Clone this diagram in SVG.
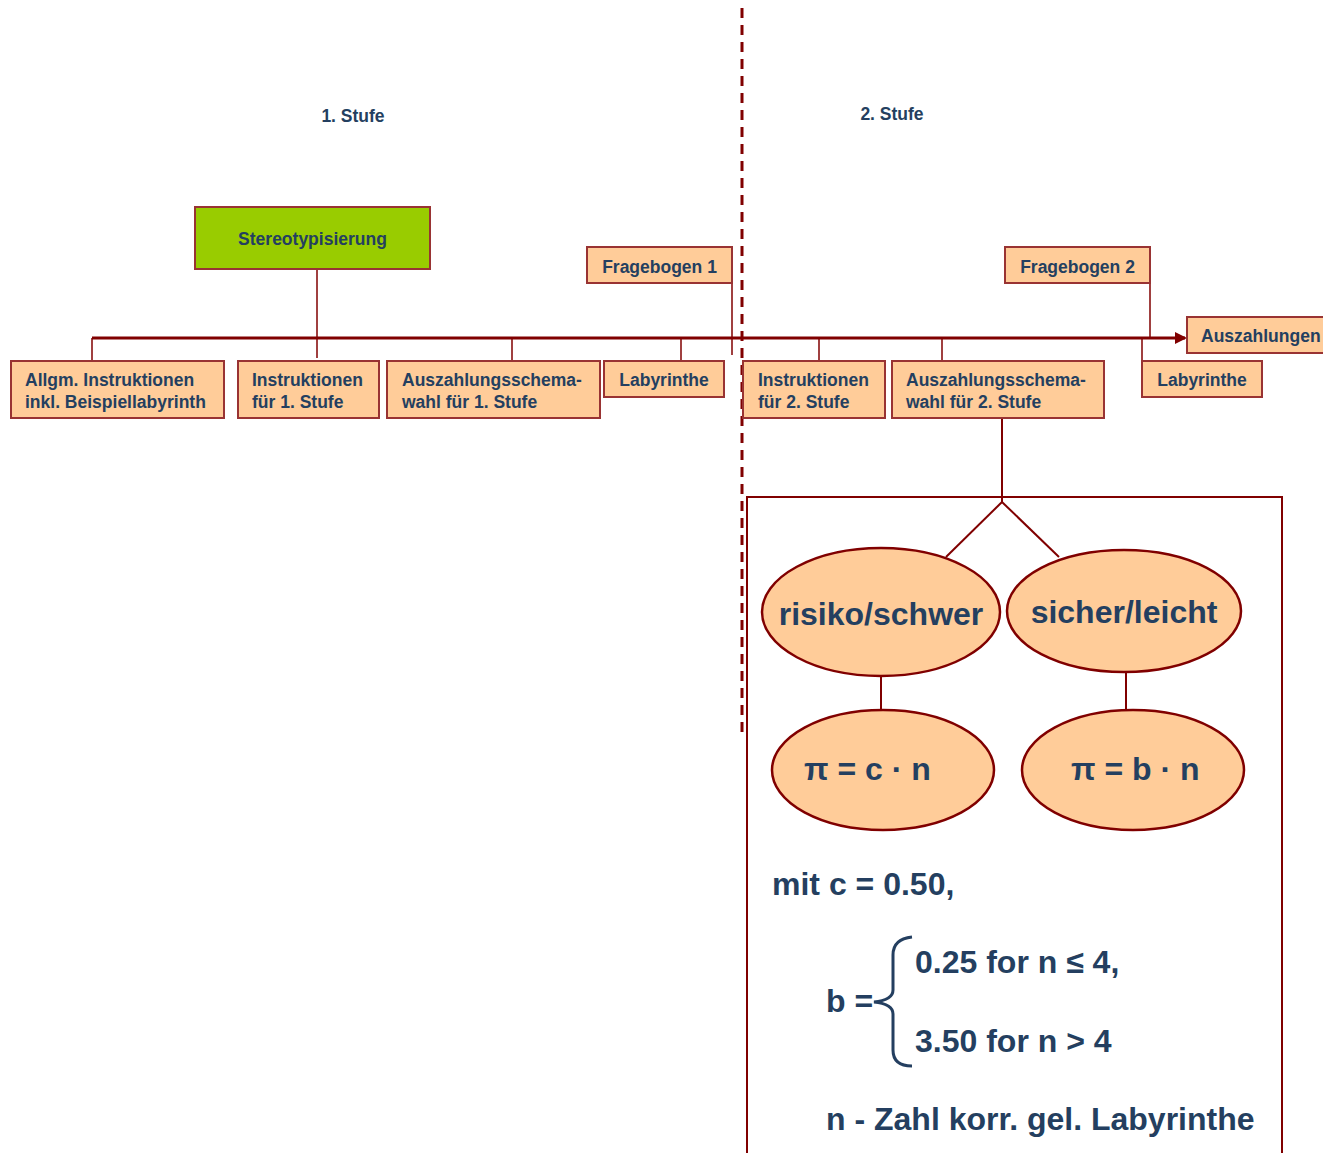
<svg xmlns="http://www.w3.org/2000/svg" width="1323" height="1153" viewBox="0 0 1323 1153">
<defs>
<style>
.box{fill:#FFCC99;stroke:#993333;stroke-width:2}
.green{fill:#99CC00;stroke:#993333;stroke-width:2}
.ell{fill:#FFCC99;stroke:#800000;stroke-width:2.5}
.t{font-family:"Liberation Sans",Arial,sans-serif;font-weight:bold;font-size:17.5px;fill:#243F60}
.big{font-family:"Liberation Sans",Arial,sans-serif;font-weight:bold;font-size:32px;fill:#243F60}
.ln{stroke:#800000;stroke-width:1.5;fill:none}
.main{stroke:#800000;stroke-width:3;fill:none}
</style>
<marker id="arr" markerWidth="12" markerHeight="12" refX="10" refY="6" orient="auto" markerUnits="userSpaceOnUse">
<path d="M0,0 L12,6 L0,12 Z" fill="#800000"/>
</marker>
</defs>
<rect width="1323" height="1153" fill="#FFFFFF"/>

<text class="t" x="353" y="122" text-anchor="middle">1. Stufe</text>
<text class="t" x="892" y="120" text-anchor="middle">2. Stufe</text>

<g id="connectors">
<line class="main" x1="92" y1="338" x2="1185" y2="338" marker-end="url(#arr)"/>
<line class="ln" x1="92" y1="338" x2="92" y2="361"/>
<line class="ln" x1="317" y1="269" x2="317" y2="358"/>
<line class="ln" x1="512" y1="338" x2="512" y2="361"/>
<line class="ln" x1="681" y1="338" x2="681" y2="361"/>
<line class="ln" x1="732" y1="283" x2="732" y2="355"/>
<line class="ln" x1="819" y1="338" x2="819" y2="361"/>
<line class="ln" x1="942" y1="338" x2="942" y2="361"/>
<line class="ln" x1="1150" y1="283" x2="1150" y2="338"/>
<line class="ln" x1="1142" y1="338" x2="1142" y2="361"/>
<line class="ln" x1="1002" y1="418" x2="1002" y2="502" style="stroke-width:2"/>
<line class="ln" x1="1002" y1="502" x2="946" y2="557" style="stroke-width:2"/>
<line class="ln" x1="1002" y1="502" x2="1059" y2="557" style="stroke-width:2"/>
<line class="ln" x1="881" y1="666" x2="881" y2="710" style="stroke-width:2"/>
<line class="ln" x1="1126" y1="668" x2="1126" y2="712" style="stroke-width:2"/>
</g>

<line x1="742" y1="8" x2="742" y2="736" stroke="#800000" stroke-width="3" stroke-dasharray="10 7"/>

<rect x="747" y="497" width="535" height="670" fill="none" stroke="#800000" stroke-width="2"/>

<g id="stereo">
<rect class="green" x="195" y="207" width="235" height="62"/>
<text class="t" x="312.5" y="245" text-anchor="middle">Stereotypisierung</text>
</g>
<g id="allgm">
<rect class="box" x="11" y="361" width="213" height="57"/>
<text class="t" x="25" y="386">Allgm. Instruktionen</text>
<text class="t" x="25" y="408">inkl. Beispiellabyrinth</text>
</g>
<g id="instr1">
<rect class="box" x="238" y="361" width="141" height="57"/>
<text class="t" x="252" y="386">Instruktionen</text>
<text class="t" x="252" y="408">für 1. Stufe</text>
</g>
<g id="ausz1">
<rect class="box" x="387" y="361" width="213" height="57"/>
<text class="t" x="402" y="386">Auszahlungsschema-</text>
<text class="t" x="402" y="408">wahl für 1. Stufe</text>
</g>
<g id="lab1">
<rect class="box" x="604" y="361" width="120" height="36"/>
<text class="t" x="664" y="386" text-anchor="middle">Labyrinthe</text>
</g>
<g id="frage1">
<rect class="box" x="587" y="247" width="145" height="36"/>
<text class="t" x="659.5" y="273" text-anchor="middle">Fragebogen 1</text>
</g>
<g id="instr2">
<rect class="box" x="743" y="361" width="142" height="57"/>
<text class="t" x="758" y="386">Instruktionen</text>
<text class="t" x="758" y="408">für 2. Stufe</text>
</g>
<g id="ausz2">
<rect class="box" x="892" y="361" width="212" height="57"/>
<text class="t" x="906" y="386">Auszahlungsschema-</text>
<text class="t" x="906" y="408">wahl für 2. Stufe</text>
</g>
<g id="frage2">
<rect class="box" x="1005" y="247" width="145" height="36"/>
<text class="t" x="1077.5" y="273" text-anchor="middle">Fragebogen 2</text>
</g>
<g id="lab2">
<rect class="box" x="1142" y="361" width="120" height="36"/>
<text class="t" x="1202" y="386" text-anchor="middle">Labyrinthe</text>
</g>
<g id="auszahlungen">
<rect class="box" x="1187" y="317" width="145" height="36"/>
<text class="t" x="1201" y="342">Auszahlungen</text>
</g>

<g id="risiko">
<ellipse class="ell" cx="881" cy="612" rx="119" ry="64"/>
<text class="big" x="881" y="625" text-anchor="middle">risiko/schwer</text>
</g>
<g id="sicher">
<ellipse class="ell" cx="1124" cy="611" rx="117" ry="61"/>
<text class="big" x="1124" y="623" text-anchor="middle">sicher/leicht</text>
</g>
<g id="pic">
<ellipse class="ell" cx="883" cy="770" rx="111" ry="60"/>
<text class="big" x="804" y="780">π = c · n</text>
</g>
<g id="pib">
<ellipse class="ell" cx="1133" cy="770" rx="111" ry="60"/>
<text class="big" x="1071" y="780">π = b · n</text>
</g>

<g id="formulas">
<text class="big" x="772" y="895">mit c = 0.50,</text>
<text class="big" x="826" y="1012">b =</text>
<path d="M912,937 Q893,939 893,955 L893,990 Q893,1000 874,1002 Q893,1004 893,1014 L893,1050 Q893,1066 912,1066" fill="none" stroke="#243F60" stroke-width="3"/>
<text class="big" x="915" y="973">0.25 for n ≤ 4,</text>
<text class="big" x="915" y="1052">3.50 for n &gt; 4</text>
<text class="big" x="826" y="1130">n - Zahl korr. gel. Labyrinthe</text>
</g>
</svg>
